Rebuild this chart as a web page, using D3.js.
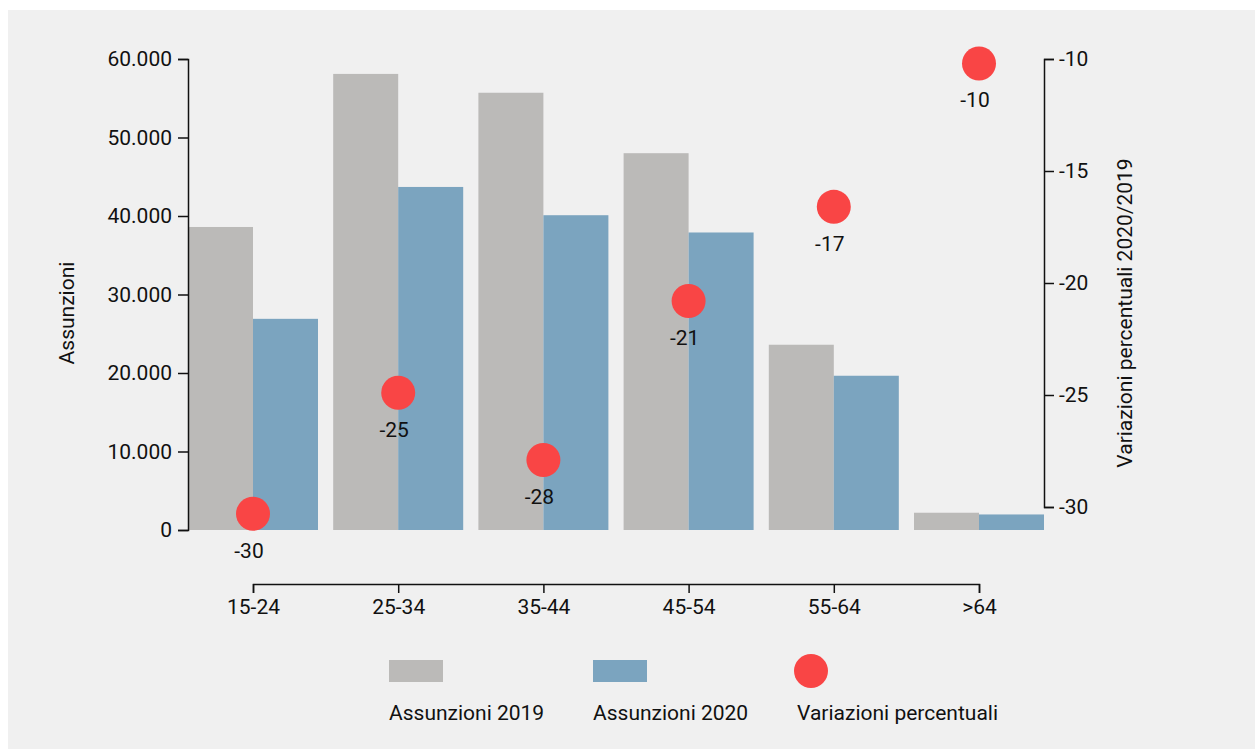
<!DOCTYPE html>
<html>
<head>
<meta charset="utf-8">
<script src="https://cdn.jsdelivr.net/npm/d3@7"></script>
<style>
  body { margin: 0; background: #fff; }
  svg { display: block; font-family: Roboto, sans-serif; }
  .axis text { font-size: 21px; fill: #111; font-family: Roboto, sans-serif; }
  .axis path, .axis line { stroke: #111; stroke-width: 1.5; }
</style>
</head>
<body>
<div id="chart"></div>
<script>
const categories = ['15-24', '25-34', '35-44', '45-54', '55-64', '>64'];
const series = ['Assunzioni 2019', 'Assunzioni 2020'];
const assunzioni2019 = [38600, 58100, 55700, 48000, 23600, 2200];
const assunzioni2020 = [26900, 43700, 40100, 37900, 19650, 1980];
const variazioni = [-30.3, -24.9, -27.9, -20.8, -16.6, -10.2];
const leftTicks = [0, 10000, 20000, 30000, 40000, 50000, 60000];
const rightTicks = [-30, -25, -20, -15, -10];
const legendLabels = ['Assunzioni 2019', 'Assunzioni 2020', 'Variazioni percentuali'];

const width = 1255, height = 749;
const colors = { 'Assunzioni 2019': '#bbbab8', 'Assunzioni 2020': '#7ba4bf' };
const dotColor = '#f94545';

const svg = d3.select('#chart').append('svg')
    .attr('width', width)
    .attr('height', height);

svg.append('rect')
    .attr('x', 8).attr('y', 10)
    .attr('width', width - 8).attr('height', height - 10)
    .attr('fill', '#f0f0f0');

// scales
const x = d3.scalePoint().domain(categories).range([253, 979]);
const xSub = d3.scaleBand().domain(series).range([-65, 65]);
const y = d3.scaleLinear().domain([0, 60000]).range([530, 59]);
const y2 = d3.scaleLinear().domain([-30, -10]).range([507, 59]);

const rows = categories.map((c, i) => ({
    cat: c,
    values: [
        { key: series[0], value: assunzioni2019[i] },
        { key: series[1], value: assunzioni2020[i] }
    ],
    pct: variazioni[i]
}));

// bars
const groups = svg.selectAll('.group')
    .data(rows)
    .enter().append('g')
    .attr('class', 'group')
    .attr('transform', d => `translate(${x(d.cat)},0)`);

groups.selectAll('rect')
    .data(d => d.values)
    .enter().append('rect')
    .attr('x', d => xSub(d.key))
    .attr('y', d => y(d.value))
    .attr('width', xSub.bandwidth())
    .attr('height', d => y(0) - y(d.value))
    .attr('fill', d => colors[d.key]);

// axes
const fmt = d3.formatLocale({ decimal: ',', thousands: '.', grouping: [3], currency: ['€', ''], minus: '-' }).format(',');
const fmtPct = d3.formatLocale({ decimal: ',', thousands: '.', grouping: [3], currency: ['€', ''], minus: '-' }).format('d');

svg.append('g')
    .attr('class', 'axis')
    .attr('transform', 'translate(188,0)')
    .call(d3.axisLeft(y).tickValues(leftTicks).tickFormat(fmt).tickSize(10).tickPadding(6));

svg.append('g')
    .attr('class', 'axis')
    .attr('transform', 'translate(1044,0)')
    .call(d3.axisRight(y2).tickValues(rightTicks).tickFormat(fmtPct).tickSize(10).tickPadding(5));

svg.append('g')
    .attr('class', 'axis')
    .attr('transform', 'translate(0,584)')
    .call(d3.axisBottom(x).tickSize(9).tickPadding(6));

svg.selectAll('.axis .domain').attr('fill', 'none');

// axis titles
svg.append('text')
    .attr('transform', 'translate(74,313) rotate(-90)')
    .attr('text-anchor', 'middle')
    .style('font-size', '21px')
    .attr('fill', '#111')
    .text('Assunzioni');

svg.append('text')
    .attr('transform', 'translate(1132,313) rotate(-90)')
    .attr('text-anchor', 'middle')
    .style('font-size', '21px')
    .attr('fill', '#111')
    .text('Variazioni percentuali 2020/2019');

// dots
svg.selectAll('.dot')
    .data(rows)
    .enter().append('circle')
    .attr('class', 'dot')
    .attr('cx', d => x(d.cat))
    .attr('cy', d => y2(d.pct))
    .attr('r', 17)
    .attr('fill', dotColor);

svg.selectAll('.dot-label')
    .data(rows)
    .enter().append('text')
    .attr('class', 'dot-label')
    .attr('x', d => x(d.cat) - 4)
    .attr('y', d => y2(d.pct) + 44)
    .attr('text-anchor', 'middle')
    .style('font-size', '21px')
    .attr('fill', '#111')
    .text(d => fmtPct(Math.round(d.pct)));

// legend
const legend = svg.selectAll('.legend')
    .data(legendLabels)
    .enter().append('g')
    .attr('class', 'legend')
    .attr('transform', (d, i) => `translate(${389 + i * 204},0)`);

legend.each(function (d, i) {
    const g = d3.select(this);
    if (i < 2) {
        g.append('rect')
            .attr('x', 0).attr('y', 660)
            .attr('width', 54).attr('height', 22)
            .attr('fill', colors[d]);
    } else {
        g.append('circle')
            .attr('cx', 14).attr('cy', 671)
            .attr('r', 17)
            .attr('fill', dotColor);
    }
    g.append('text')
        .attr('x', 0)
        .attr('y', 720)
        .style('font-size', '21px')
        .attr('fill', '#111')
        .text(d);
});
</script>
</body>
</html>
